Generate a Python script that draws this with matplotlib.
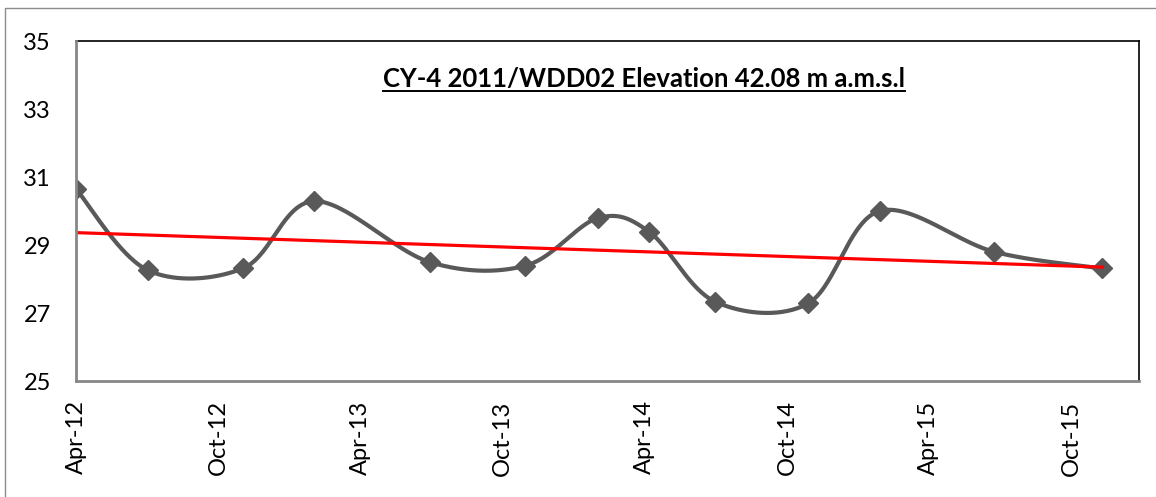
import matplotlib
matplotlib.use('Agg')
import matplotlib.pyplot as plt
import matplotlib.dates as mdates
import numpy as np
from matplotlib.patches import Rectangle
from matplotlib.lines import Line2D

# ---------------- data ----------------
dates = ['2012-04-01', '2012-07-02', '2012-11-02', '2013-02-01', '2013-06-29',
         '2013-10-30', '2014-01-31', '2014-04-07', '2014-07-01', '2014-10-28',
         '2015-01-28', '2015-06-24', '2015-11-10']
levels = [30.65, 28.26, 28.32, 30.29, 28.50, 28.39, 29.79, 29.39, 27.33,
          27.28, 30.00, 28.80, 28.31]
tick_dates = ['2012-04-01', '2012-10-01', '2013-04-01', '2013-10-01',
              '2014-04-01', '2014-10-01', '2015-04-01', '2015-10-01']
tick_labels = ['Apr-12', 'Oct-12', 'Apr-13', 'Oct-13', 'Apr-14', 'Oct-14',
               'Apr-15', 'Oct-15']
y_ticks = [25, 27, 29, 31, 33, 35]
x_range = ['2012-04-01', '2015-12-27']
title = 'CY-4 2011/WDD02 Elevation 42.08 m a.m.s.l'

# ---------------- helpers ----------------
def to_num(ds):
    return np.array([mdates.datestr2num(d) for d in ds])


def excel_smooth(x, y, n=60):
    x = np.asarray(x, float)
    y = np.asarray(y, float)
    px = np.concatenate([[x[0]], x, [x[-1]]])
    py = np.concatenate([[y[0]], y, [y[-1]]])
    xs, ys = [], []
    t = np.linspace(0, 1, n)
    for i in range(1, len(px) - 2):
        p0 = np.array([px[i], py[i]])
        p3 = np.array([px[i + 1], py[i + 1]])
        c1 = p0 + (np.array([px[i + 1], py[i + 1]]) - np.array([px[i - 1], py[i - 1]])) / 6.0
        c2 = p3 - (np.array([px[i + 2], py[i + 2]]) - np.array([px[i], py[i]])) / 6.0
        b = ((1 - t) ** 3)[:, None] * p0 + (3 * (1 - t) ** 2 * t)[:, None] * c1 \
            + (3 * (1 - t) * t ** 2)[:, None] * c2 + (t ** 3)[:, None] * p3
        xs.append(b[:, 0])
        ys.append(b[:, 1])
    return np.concatenate(xs), np.concatenate(ys)


plt.rcParams['font.family'] = ['Lato', 'DejaVu Sans']

W, H = 1156, 497
fig = plt.figure(figsize=(W / 100, H / 100), dpi=100)
fig.patch.set_facecolor('white')

# outer chart-area border (cut at right and bottom)
fig.add_artist(Rectangle((5 / W, -0.1), 1.2, (H - 8) / H + 0.1,
                         transform=fig.transFigure, fill=False,
                         edgecolor='#8c8c8c', linewidth=1.0))

ax = fig.add_axes([76 / W, 1 - 381 / H, (1139 - 76) / W, (381 - 41) / H])

xd = to_num(dates)
yv = np.array(levels)

sx, sy = excel_smooth(xd, yv)
ax.plot(sx, sy, color='#595959', linewidth=3.0, solid_capstyle='round',
        zorder=3)
ax.plot(xd, yv, linestyle='none', marker='D', markersize=10.5,
        color='#595959', zorder=4)

# linear trend line
coef = np.polyfit(xd, yv, 1)
tx = np.array([xd[0], xd[-1]])
ax.plot(tx, np.polyval(coef, tx), color='#ff0000', linewidth=2.3, zorder=5)

xr = to_num(x_range)
ax.set_xlim(xr[0], xr[1])
ax.set_ylim(y_ticks[0], y_ticks[-1])
ax.set_yticks(y_ticks)
ax.set_yticklabels([str(v) for v in y_ticks])
ax.set_xticks(to_num(tick_dates))
ax.set_xticklabels(tick_labels, rotation=90, va='top', ha='center')

ax.tick_params(axis='y', length=0, pad=18, labelsize=17, labelcolor='black')
ax.tick_params(axis='x', length=0, pad=14, labelsize=17, labelcolor='black')

for s in ['top', 'right']:
    ax.spines[s].set_color('black')
    ax.spines[s].set_linewidth(1.2)
for s in ['left', 'bottom']:
    ax.spines[s].set_color('#878787')
    ax.spines[s].set_linewidth(2.0)
    ax.spines[s].set_zorder(6)

t = ax.text((644 - 76) / (1139 - 76), (381 - 87) / 340, title,
            transform=ax.transAxes, ha='center', va='baseline',
            fontsize=18.5, fontweight='bold', color='black')

fig.canvas.draw()
bb = t.get_window_extent(renderer=fig.canvas.get_renderer())
uy = 1 - 90.5 / H
fig.add_artist(Line2D([bb.x0 / W, bb.x1 / W], [uy, uy],
                      transform=fig.transFigure, color='black',
                      linewidth=1.4))

fig.savefig('out.png', dpi=100, facecolor='white')
